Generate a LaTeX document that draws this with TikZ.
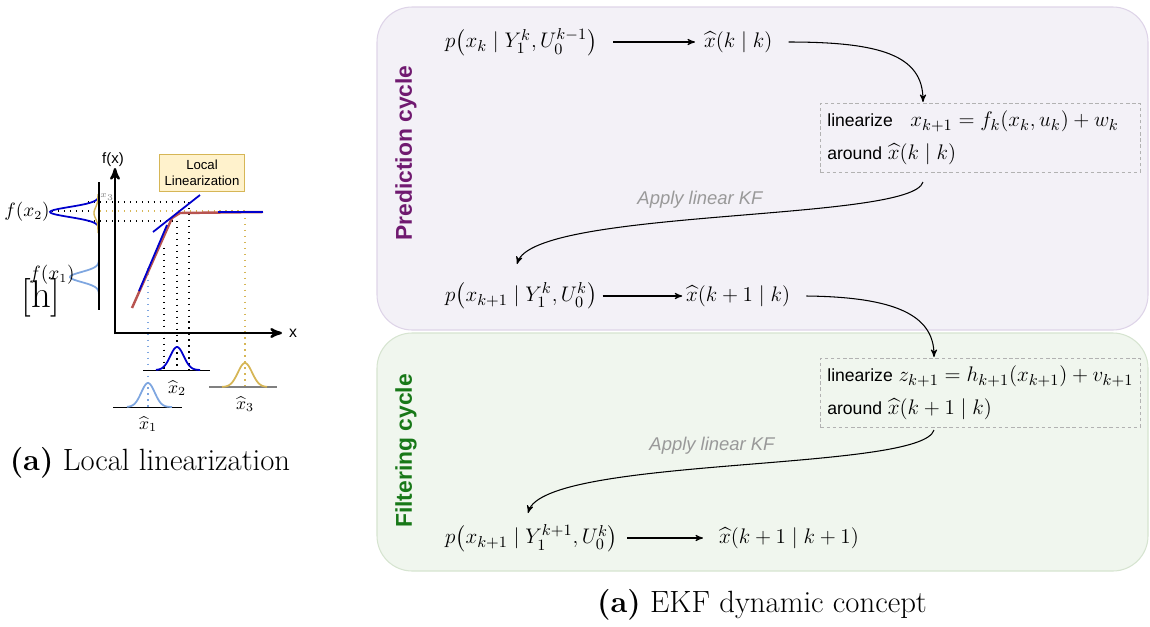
\documentclass[tikz,border=0pt]{standalone}
\usepackage{amsmath}
\usepackage{amssymb}
\usepackage{fontspec}
\newfontfamily\arialfont{Liberation Sans}
\usepackage{tikz}
\usetikzlibrary{arrows,shapes,calc}
\usepackage{xcolor}
\definecolor{darkblue}{RGB}{0,0,204}
\definecolor{lightblue}{RGB}{126,166,224}
\definecolor{gold}{RGB}{214,182,86}
\definecolor{redline}{RGB}{184,84,80}
\definecolor{purpletxt}{RGB}{112,26,112}
\definecolor{greentxt}{RGB}{24,120,24}
\definecolor{predfill}{RGB}{243,241,247}
\definecolor{preddraw}{RGB}{222,212,232}
\definecolor{filtfill}{RGB}{240,246,238}
\definecolor{filtdraw}{RGB}{214,228,208}
\definecolor{notefill}{RGB}{255,242,204}
\newcommand{\mth}[1]{{\fontsize{12.5}{15}\selectfont$#1$}}

\begin{document}
\begin{tikzpicture}[x=0.02cm, y=-0.02cm, >=stealth',
  eq node/.style={anchor=west, inner sep=1pt, font=\fontsize{12.5}{15}\selectfont},
  lin box/.style={draw=gray!60, dash pattern=on 2pt off 1.5pt, anchor=north west, minimum width=6.4cm, minimum height=1.38cm, inner xsep=0.14cm, inner ysep=0pt, text width=6.12cm, align=left, font=\arialfont\fontsize{10}{18.5}\selectfont},
  cycle box/.style={rounded corners=20pt, line width=0.6pt},
  kf label/.style={font=\arialfont\itshape\fontsize{10.5}{12}\selectfont, text=gray!80},
  flow/.style={->, line width=0.6pt},
  dots/.style={dash pattern=on 0.8pt off 2.6pt, line width=0.8pt},
  gauss/.style={line width=1pt},
  caption/.style={font=\fontsize{17.5}{20}\selectfont}]
\useasboundingbox (0,0) rectangle (1150,626);

% local linearization sketch
\draw [dots] (88,202) -- (189,202);
\draw [dots] (52,211) -- (99,211);
\draw [dots, gold] (100,211) -- (245,211);
\draw [dots] (88,221) -- (177,221);
\draw [dots] (164,248) -- (164,370);
\draw [dots] (177,221) -- (177,370);
\draw [dots] (189,202) -- (189,370);
\draw [dots, lightblue] (148,268) -- (148,407);
\draw [dots, gold] (245,212) -- (245,387);
\draw [line width=1.3pt, ->] (115,334) -- (115,168);
\draw [line width=1.3pt, ->] (114,333) -- (282,333);
\node [font=\arialfont\fontsize{8.5}{10}\selectfont] (fx) at (113,160) {f(x)};
\node [font=\arialfont\fontsize{9}{10}\selectfont] (xa) at (293,333) {x};
\draw [redline, line width=1.4pt] (132,308) -- (172,218) -- (180,213) -- (263,212);
\draw [darkblue, line width=1pt] (139,291) -- (167,225);
\draw [darkblue, line width=1pt] (153,232) -- (200,195);
\draw [darkblue, line width=1pt] (218,212) -- (263,212);
\node [draw=gold, fill=notefill, minimum width=1.7cm, minimum height=0.74cm, align=center, inner sep=0pt, font=\arialfont\fontsize{7.5}{9}\selectfont] (ll) at (202,173) {Local\\Linearization};
% densities
\draw [gauss, darkblue] plot[domain=193:237, samples=50] ({99-49*exp(-((\x-212)^2)/50)}, \x);
\draw [gauss, gold, line width=0.8pt] plot[domain=194:233, samples=40] ({98-4*exp(-((\x-213)^2)/60)}, \x);
\draw [gauss, lightblue] plot[domain=253:297, samples=50] ({99-29*exp(-((\x-277)^2)/50)}, \x);
\draw [line width=0.6pt] (99,182) -- (99,310);
\draw [thin] (143,370) -- (210,370);
\draw [gauss, darkblue] plot[domain=156:200, samples=40] (\x, {370-23*exp(-((\x-177)^2)/90)});
\draw [gray, line width=0.9pt] (209,387) -- (277,387);
\draw [gauss, gold] plot[domain=222:267, samples=40] (\x, {387-24*exp(-((\x-245)^2)/100)});
\draw [thin] (113,407) -- (182,407);
\draw [gauss, lightblue] plot[domain=127:172, samples=40] (\x, {407-24*exp(-((\x-148)^2)/90)});
\node [font=\fontsize{10.5}{12}\selectfont] (fx2) at (27,212) {$f(x_2)$};
\node [font=\fontsize{10.5}{12}\selectfont] (fx1) at (52,275) {$f(x_1)$};
\node [font=\fontsize{5}{6}\selectfont, text=gray] (fx3) at (107,197) {$x_3$};
\node [font=\fontsize{22}{24}\selectfont] (hh) at (41,298) {[h]};
\node [font=\fontsize{10}{12}\selectfont] (xh2) at (177,388) {$\widehat{x}_2$};
\node [font=\fontsize{10}{12}\selectfont] (xh3) at (245,404) {$\widehat{x}_3$};
\node [font=\fontsize{10}{12}\selectfont] (xh1) at (148,424) {$\widehat{x}_1$};
\node [caption] (cap1) at (150,463) {\textbf{(a)} Local linearization};

% EKF cycles
\draw [cycle box, draw=preddraw, fill=predfill] (377,7) rectangle (1148,330);
\draw [cycle box, draw=filtdraw, fill=filtfill] (377,333) rectangle (1148,571);
\node [rotate=90, text=purpletxt, font=\arialfont\bfseries\fontsize{13}{15}\selectfont] (pc) at (406,153) {Prediction cycle};
\node [rotate=90, text=greentxt, font=\arialfont\bfseries\fontsize{13}{15}\selectfont] (fc) at (406,451) {Filtering cycle};

\node [eq node] (1) at (443,42) {$p\bigl(x_k \mid Y_1^k, U_0^{k-1}\bigr)$};
\node [eq node] (2) at (702,42) {$\widehat{x}(k \mid k)$};
\node [lin box] (3) at (820,103) {linearize\quad\mth{x_{k+1} = f_k(x_k,u_k) + w_k}\\around \mth{\widehat{x}(k \mid k)}};
\node [eq node] (4) at (443,296) {$p\bigl(x_{k+1} \mid Y_1^k, U_0^k\bigr)$};
\node [eq node] (5) at (684,296) {$\widehat{x}(k+1 \mid k)$};
\node [lin box] (6) at (820,358) {linearize \mth{z_{k+1} = h_{k+1}(x_{k+1}) + v_{k+1}}\\around \mth{\widehat{x}(k+1 \mid k)}};
\node [eq node] (7) at (443,538) {$p\bigl(x_{k+1} \mid Y_1^{k+1}, U_0^k\bigr)$};
\node [eq node] (8) at (717,538) {$\widehat{x}(k+1 \mid k+1)$};
\node [kf label] (kf1) at (700,200) {Apply linear KF};
\node [kf label] (kf2) at (712,446) {Apply linear KF};
\node [caption] (cap2) at (762,605) {\textbf{(a)} EKF dynamic concept};

\coordinate (in1) at (923,102);
\coordinate (out1) at (923,182);
\coordinate (in2) at (517,264);
\coordinate (in3) at (934,357);
\coordinate (out3) at (934,430);
\coordinate (in4) at (528,513);

\draw [flow] ([xshift=8pt]1.east) -- ([xshift=-4pt]2.west);
\draw [flow] ([xshift=2pt]4.east) -- ([xshift=-1pt]5.west);
\draw [flow] ([xshift=4pt]7.east) -- ([xshift=-8pt]8.west);
\draw [flow] ([xshift=8pt]2.east) .. controls (880,42) and (923,55) .. (in1);
\draw [flow] (out1) .. controls (912,222) and (535,208) .. (in2);
\draw [flow] ([xshift=8pt]5.east) .. controls (895,297) and (934,315) .. (in3);
\draw [flow] (out3) .. controls (922,472) and (545,456) .. (in4);
\end{tikzpicture}
\end{document}
